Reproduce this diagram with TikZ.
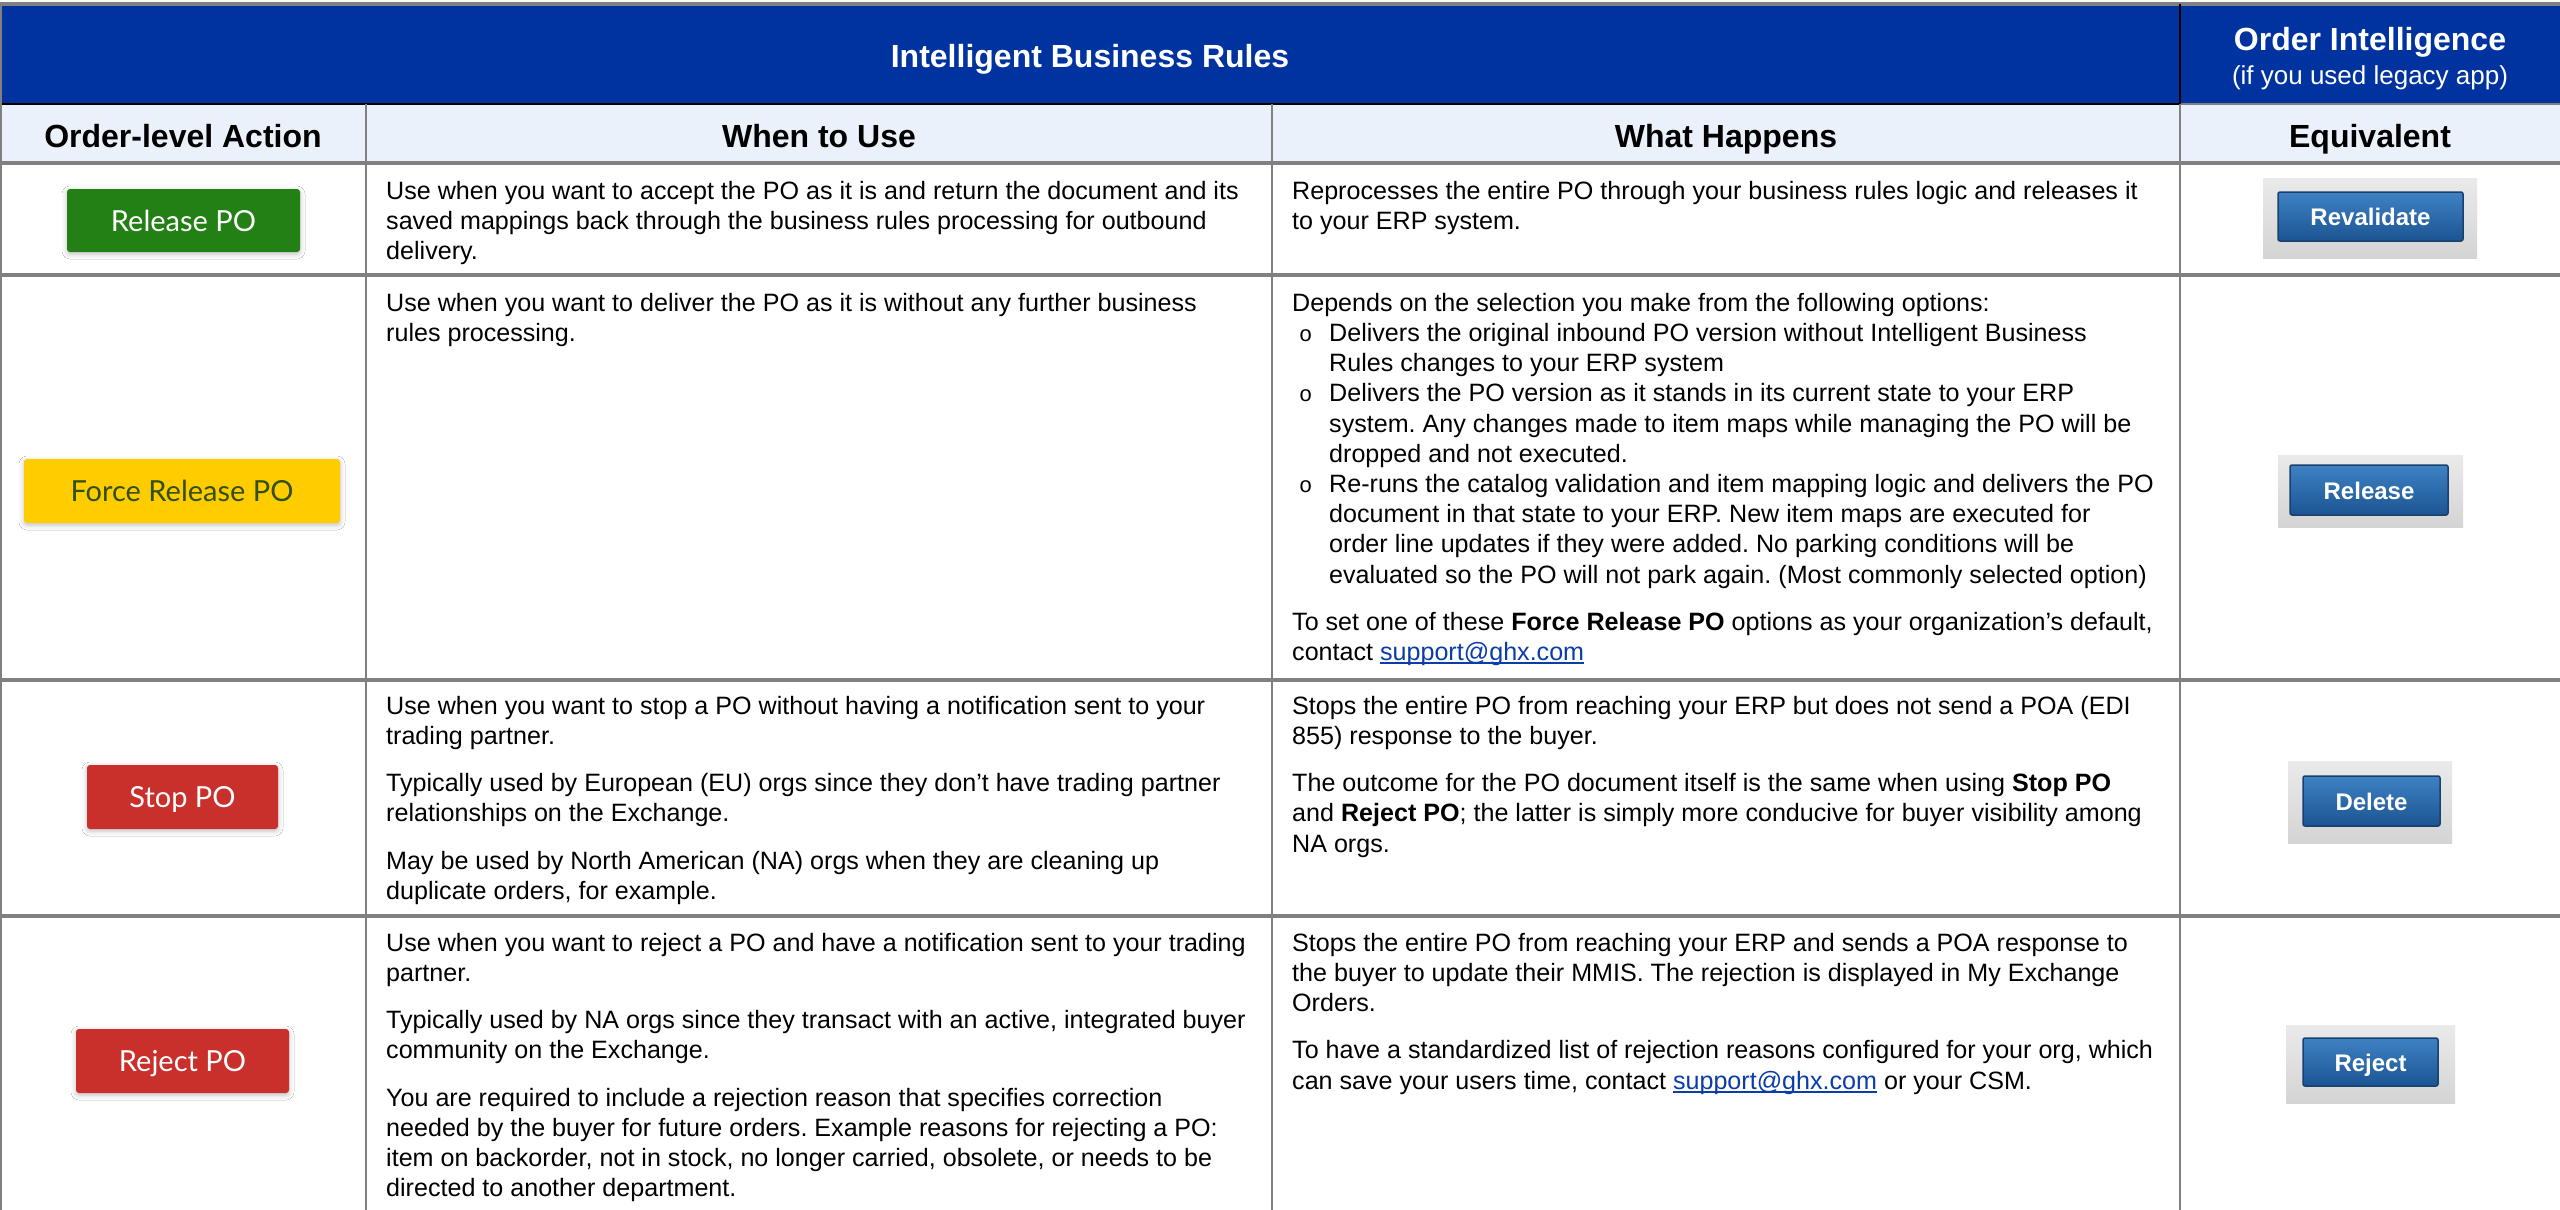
\documentclass[tikz,border=0pt]{standalone}
\usepackage{fontspec}
\setmainfont{Liberation Sans}
\newfontfamily\btnfont{Lato}
\newfontfamily\bulfont{Liberation Mono}
\usetikzlibrary{shadows.blur}
\definecolor{hdrblue}{RGB}{0,51,160}
\definecolor{hdrlight}{RGB}{235,241,250}
\definecolor{gridgray}{RGB}{128,128,128}
\definecolor{linkblue}{RGB}{10,60,170}
\definecolor{btngreen}{RGB}{34,128,20}
\definecolor{btnyellow}{RGB}{255,204,0}
\definecolor{btnred}{RGB}{201,48,44}
\definecolor{forcetext}{RGB}{50,80,10}
\definecolor{shotgraytop}{RGB}{234,234,234}
\definecolor{shotgraybot}{RGB}{212,212,212}
\definecolor{eqbluetop}{RGB}{62,130,196}
\definecolor{eqbluebot}{RGB}{28,84,146}
\definecolor{eqblueedge}{RGB}{25,65,110}

\frenchspacing
\newlength\ulw
\newcommand\ulink[1]{\settowidth\ulw{#1}\textcolor{linkblue}{\rlap{\rule[-3.5pt]{\ulw}{1.8pt}}#1}}
\newcommand\fl{\rule{0pt}{24pt}}
\newcommand\bul{\hspace*{7pt}\makebox[30pt][l]{\bulfont\fontsize{22}{22}\selectfont o}}
\newcommand\ind{\hspace*{37pt}}

\tikzset{
 body/.style={anchor=north west, inner sep=0pt, align=left, font=\fontsize{25.1}{30.2}\selectfont\frenchspacing},
 colhead/.style={anchor=base, inner sep=0pt, font=\fontsize{32}{38}\selectfont\bfseries},
 poBtn/.style={rectangle, rounded corners=3pt, inner sep=0pt, text height=21pt, text depth=0pt,
   font=\btnfont\fontsize{29}{34}\selectfont,
   blur shadow={shadow xshift=0pt, shadow yshift=-2pt, shadow blur radius=5pt, shadow opacity=25}},
 shotBg/.style={rectangle, inner sep=0pt, top color=shotgraytop, bottom color=shotgraybot, draw=none},
 shotBtn/.style={rectangle, rounded corners=2pt, inner sep=0pt, text height=18pt, text depth=0pt,
   top color=eqbluetop, bottom color=eqbluebot, draw=eqblueedge, line width=1.5pt,
   text=white, font=\fontsize{24}{28}\selectfont\bfseries},
 hline/.style={draw=gridgray, line width=3.5pt},
 vline/.style={draw=gridgray, line width=2.5pt},
}

\begin{document}
\begin{tikzpicture}[x=1pt,y=-1pt]
\useasboundingbox (0,0) rectangle (2560,1210);
\fill[white] (0,0) rectangle (2560,1210);
\fill[hdrblue] (0,5) rectangle (2560,104);
\fill[hdrlight] (0,104) rectangle (2560,163);

% grid
\draw[hline] (0,4) -- (2560,4);
\draw[gridgray, line width=2.5pt] (2180,104) -- (2560,104);
\draw[black, line width=2.5pt] (0,104) -- (2180,104);
\draw[black, line width=2.5pt] (2180,4) -- (2180,104);
\draw[vline] (1.2,4) -- (1.2,1210);
\draw[vline] (366,104) -- (366,1210);
\draw[vline] (1272,104) -- (1272,1210);
\draw[vline] (2180,104) -- (2180,1210);
\draw[hline] (0,163) -- (2560,163);
\draw[hline] (0,275) -- (2560,275);
\draw[hline] (0,680) -- (2560,680);
\draw[hline] (0,916) -- (2560,916);

% headers
\node[colhead, text=white] (ttlibr) at (1090,67) {Intelligent Business Rules};
\node[colhead, text=white] (ttloi) at (2370,50) {Order Intelligence};
\node[anchor=base, inner sep=0pt, text=white, font=\fontsize{26}{30}\selectfont] (ttllegacy) at (2370,84) {(if you used legacy app)};
\node[colhead] (hact) at (183,147) {Order-level Action};
\node[colhead] (hwhen) at (819,147) {When to Use};
\node[colhead] (hwhat) at (1726,147) {What Happens};
\node[colhead] (heq) at (2370,147) {Equivalent};

% action buttons
\node[poBtn, fill=btngreen, text=white, minimum width=233pt, minimum height=63pt] (btnrel) at (183.5,220.5) {Release PO};
\node[poBtn, fill=btnyellow, text=forcetext, minimum width=316pt, minimum height=64pt] (btnforce) at (182,491) {Force Release PO};
\node[poBtn, fill=btnred, text=white, minimum width=191pt, minimum height=64pt] (btnstop) at (182.5,797) {Stop PO};
\node[poBtn, fill=btnred, text=white, minimum width=213pt, minimum height=64pt] (btnrej) at (182.5,1061) {Reject PO};

% row 1
\node[body] (r1c2) at (386,175) {\fl Use when you want to accept the PO as it is and return the document and its\\
saved mappings back through the business rules processing for outbound\\
delivery.};
\node[body] (r1c3) at (1292,175) {\fl Reprocesses the entire PO through your business rules logic and releases it\\
to your ERP system.};

% row 2
\node[body] (r2c2) at (386,287) {\fl Use when you want to deliver the PO as it is without any further business\\
rules processing.};
\node[body] (r2c3) at (1292,287) {\fl Depends on the selection you make from the following options:\\
\bul Delivers the original inbound PO version without Intelligent Business\\
\ind Rules changes to your ERP system\\
\bul Delivers the PO version as it stands in its current state to your ERP\\
\ind system. Any changes made to item maps while managing the PO will be\\
\ind dropped and not executed.\\
\bul Re-runs the catalog validation and item mapping logic and delivers the PO\\
\ind document in that state to your ERP. New item maps are executed for\\
\ind order line updates if they were added. No parking conditions will be\\
\ind evaluated so the PO will not park again. (Most commonly selected option)\\[17pt]
To set one of these \textbf{Force Release PO} options as your organization’s default,\\
contact \ulink{support@ghx.com}};

% row 3
\node[body] (r3c2) at (386,690) {\fl Use when you want to stop a PO without having a notification sent to your\\
trading partner.\\[17pt]
Typically used by European (EU) orgs since they don’t have trading partner\\
relationships on the Exchange.\\[17pt]
May be used by North American (NA) orgs when they are cleaning up\\
duplicate orders, for example.};
\node[body] (r3c3) at (1292,690) {\fl Stops the entire PO from reaching your ERP but does not send a POA (EDI\\
855) response to the buyer.\\[17pt]
The outcome for the PO document itself is the same when using \textbf{Stop PO}\\
and \textbf{Reject PO}; the latter is simply more conducive for buyer visibility among\\
NA orgs.};

% row 4
\node[body] (r4c2) at (386,927) {\fl Use when you want to reject a PO and have a notification sent to your trading\\
partner.\\[17pt]
Typically used by NA orgs since they transact with an active, integrated buyer\\
community on the Exchange.\\[17pt]
You are required to include a rejection reason that specifies correction\\
needed by the buyer for future orders. Example reasons for rejecting a PO:\\
item on backorder, not in stock, no longer carried, obsolete, or needs to be\\
directed to another department.};
\node[body] (r4c3) at (1292,927) {\fl Stops the entire PO from reaching your ERP and sends a POA response to\\
the buyer to update their MMIS. The rejection is displayed in My Exchange\\
Orders.\\[17pt]
To have a standardized list of rejection reasons configured for your org, which\\
can save your users time, contact \ulink{support@ghx.com} or your CSM.};

% equivalent screenshots
\node[shotBg, minimum width=214pt, minimum height=80pt] (shotreval) at (2370,218) {};
\node[shotBtn, minimum width=185pt, minimum height=49pt] (eqreval) at (2370.5,216.5) {Revalidate};
\node[shotBg, minimum width=185pt, minimum height=72pt] (shotrel) at (2370.5,491) {};
\node[shotBtn, minimum width=158pt, minimum height=50pt] (eqrel) at (2369,490) {Release};
\node[shotBg, minimum width=164pt, minimum height=82pt] (shotdel) at (2370,802) {};
\node[shotBtn, minimum width=137pt, minimum height=50pt] (eqdel) at (2371.5,801) {Delete};
\node[shotBg, minimum width=169pt, minimum height=78pt] (shotrej) at (2370.5,1064) {};
\node[shotBtn, minimum width=135pt, minimum height=48pt] (eqrej) at (2370.5,1062) {Reject};
\end{tikzpicture}
\end{document}
